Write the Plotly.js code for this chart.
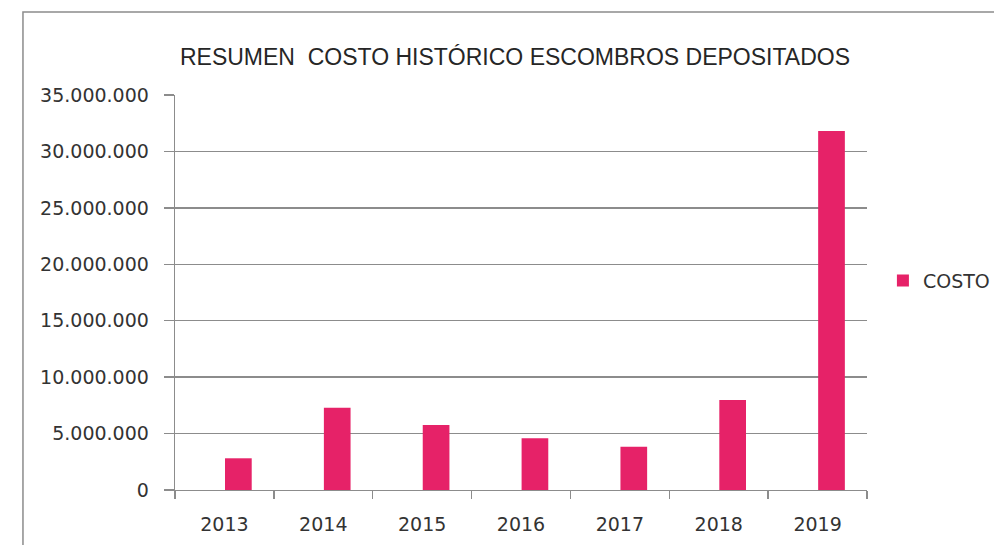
<!DOCTYPE html>
<html>
<head>
<meta charset="utf-8">
<script src="https://cdn.plot.ly/plotly-3.0.1.min.js"></script>
<style>html,body{margin:0;padding:0;background:#fff;}#chart{width:994px;height:545px;}</style>
</head>
<body>
<div id="chart"></div>
<script>
const years = ['2013','2014','2015','2016','2017','2018','2019'];
const costo = [2810000, 7290000, 5760000, 4580000, 3840000, 7970000, 31800000];
const yTicks = [0, 5000000, 10000000, 15000000, 20000000, 25000000, 30000000, 35000000];
const seriesName = 'COSTO';
const chartTitle = 'RESUMEN&nbsp; COSTO HISTÓRICO ESCOMBROS DEPOSITADOS';

const tickFont = {family: 'DejaVu Sans, sans-serif', size: 19, color: '#333333'};

const trace = {
  type: 'bar',
  x: years,
  y: costo,
  name: seriesName,
  width: 0.27,
  offset: 0.006,
  marker: {color: '#E62268', line: {width: 0}},
  showlegend: true
};

const layout = {
  width: 994,
  height: 545,
  margin: {l: 175, r: 127, t: 95, b: 55, autoexpand: false},
  paper_bgcolor: '#ffffff',
  plot_bgcolor: '#ffffff',
  separators: ',.',
  title: {
    text: chartTitle,
    font: {family: 'Liberation Sans, Arial, sans-serif', size: 23, color: '#262626'},
    x: 0.4913, xref: 'paper', xanchor: 'center',
    y: 0.895, yref: 'container', yanchor: 'middle'
  },
  xaxis: {
    type: 'category',
    showgrid: false,
    showline: true,
    linecolor: '#8c8c8c',
    linewidth: 1.3,
    ticks: 'outside',
    tickson: 'boundaries',
    ticklen: 8,
    tickcolor: '#8c8c8c',
    tickwidth: 1.3,
    tickfont: tickFont,
    ticklabelstandoff: 17,
    fixedrange: true
  },
  yaxis: {
    range: [0, 35000000],
    tickvals: yTicks,
    tickformat: ',d',
    showgrid: true,
    gridcolor: '#8c8c8c',
    gridwidth: 1.3,
    zeroline: false,
    showline: true,
    linecolor: '#8c8c8c',
    linewidth: 1.3,
    ticks: 'outside',
    ticklen: 10,
    tickcolor: '#8c8c8c',
    tickwidth: 1.3,
    tickfont: tickFont,
    ticklabelstandoff: 11,
    fixedrange: true
  },
  legend: {
    x: 1.023, xanchor: 'left',
    y: 0.53, yanchor: 'middle',
    font: {family: 'DejaVu Sans, sans-serif', size: 19, color: '#333333'},
    itemwidth: 30,
    bgcolor: 'rgba(0,0,0,0)'
  },
  shapes: [{
    type: 'rect', xref: 'paper', yref: 'paper',
    x0: -0.2197, x1: 2, y0: -2, y1: 1.2101,
    line: {color: '#8c8c8c', width: 1.5},
    fillcolor: 'rgba(0,0,0,0)'
  }]
};

Plotly.newPlot('chart', [trace], layout, {displayModeBar: false, staticPlot: true});
</script>
</body>
</html>
